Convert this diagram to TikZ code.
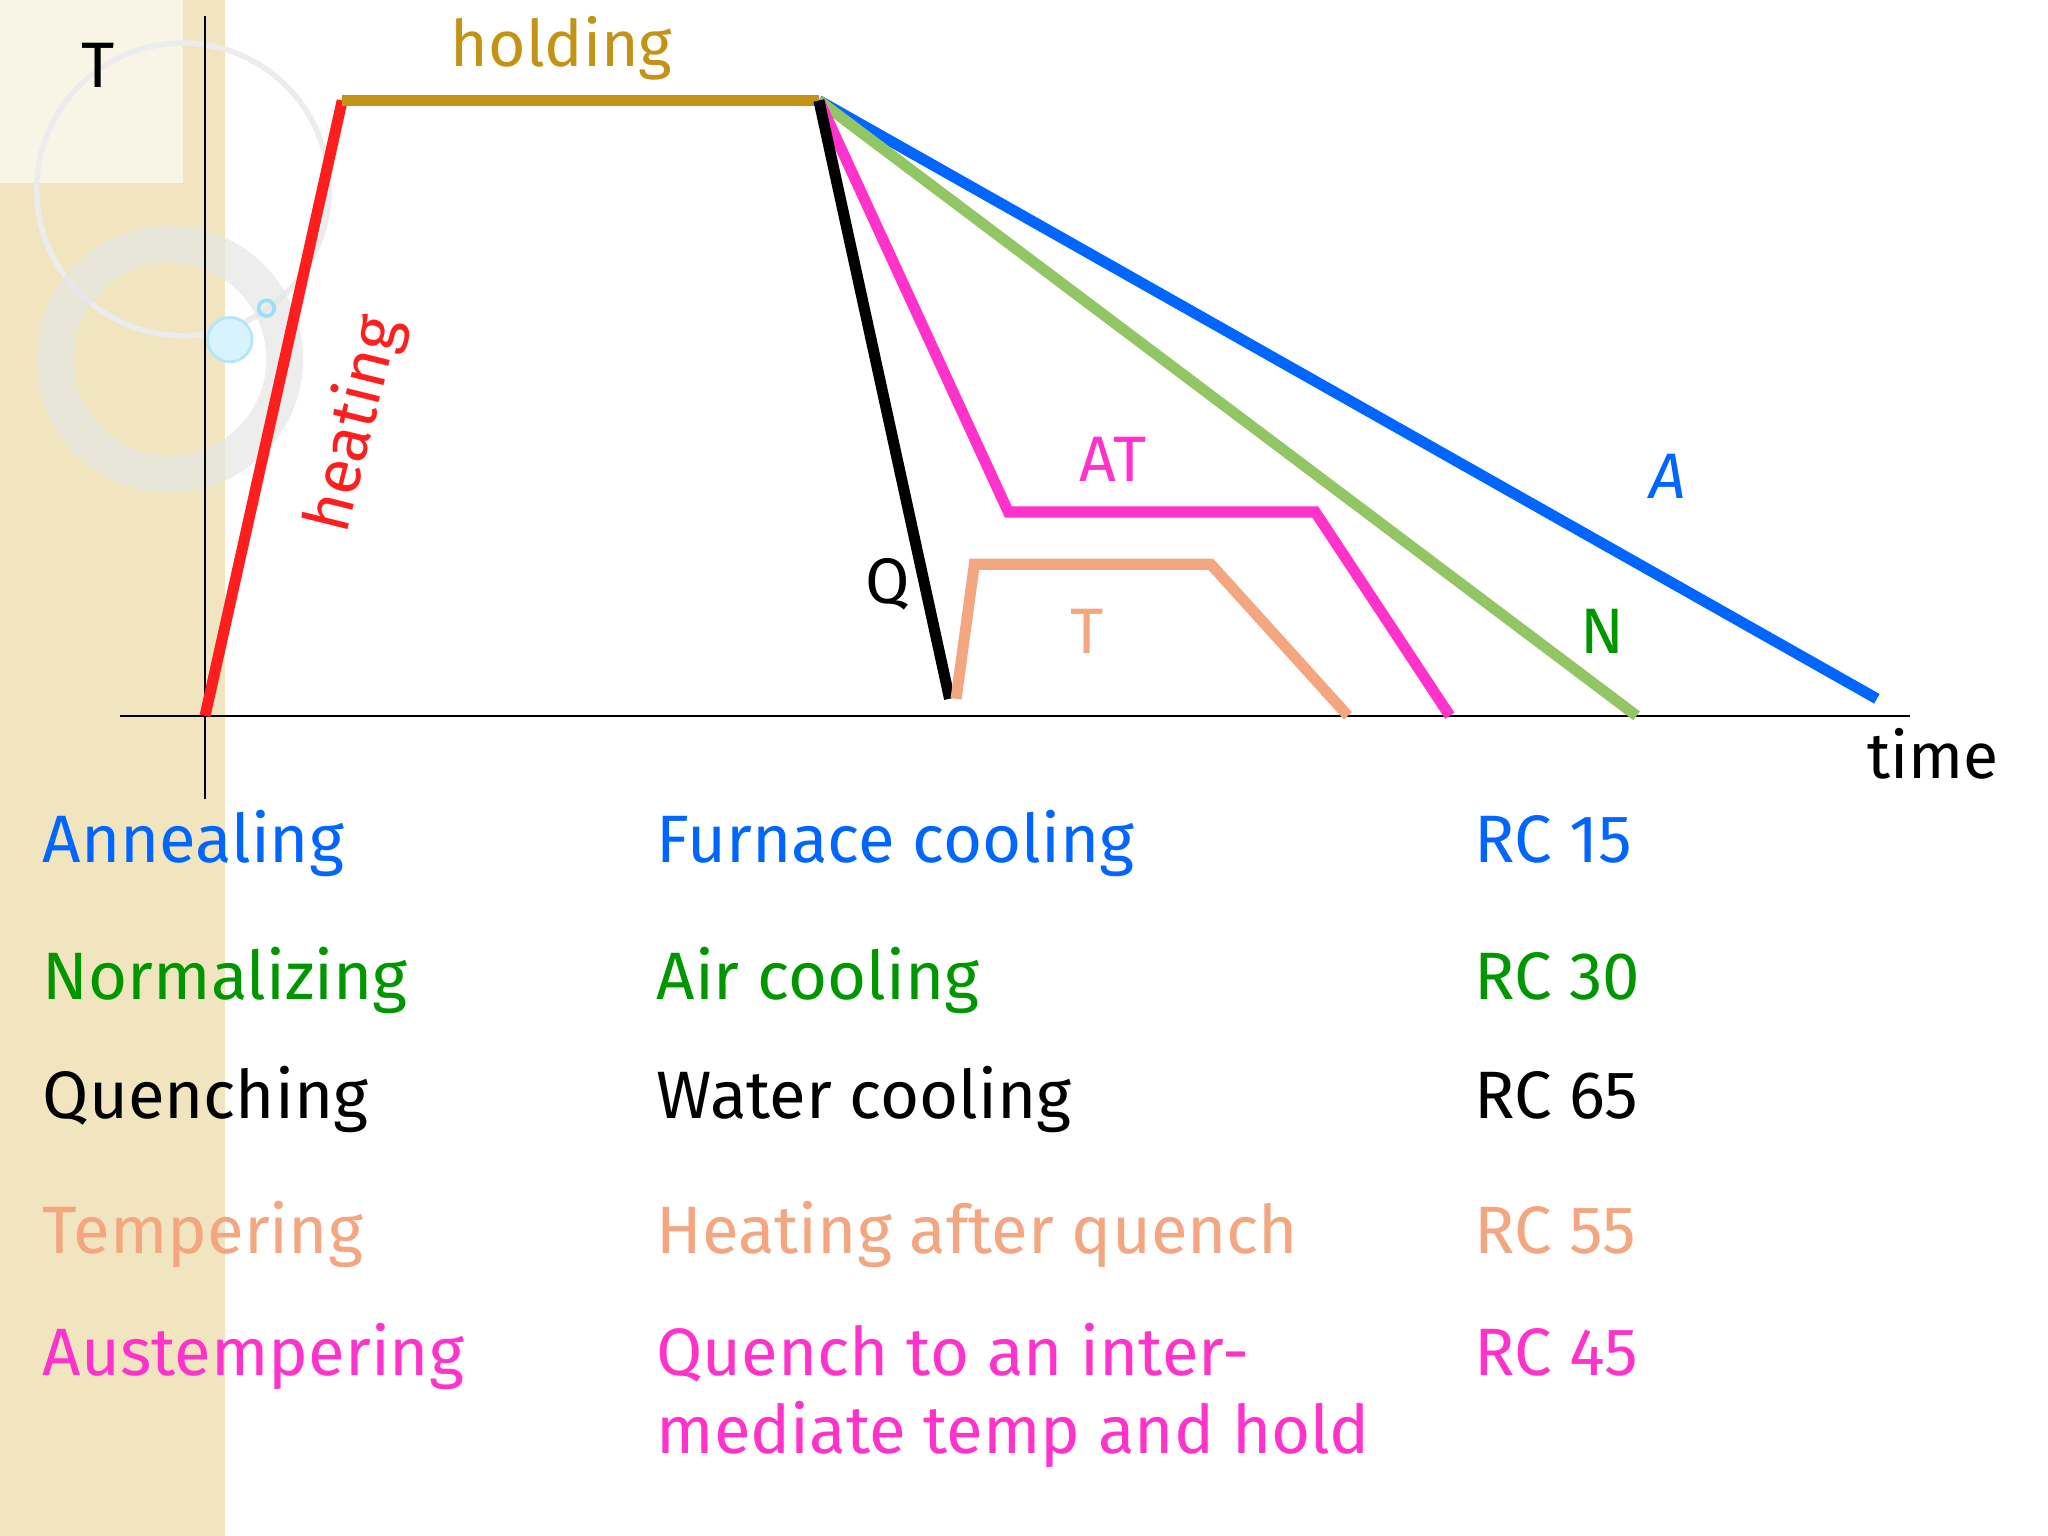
\documentclass[tikz,border=0pt]{standalone}
\usepackage{fontspec}
\setmainfont{Fira Sans}
\definecolor{cblue}{RGB}{0,102,255}
\definecolor{cgreen}{RGB}{0,150,0}
\definecolor{lgreen}{RGB}{146,198,100}
\definecolor{cmag}{RGB}{255,51,204}
\definecolor{csal}{RGB}{244,166,128}
\definecolor{cgold}{RGB}{196,146,20}
\definecolor{cred}{RGB}{255,30,30}
\definecolor{beige}{RGB}{241,229,192}
\begin{document}
\begin{tikzpicture}[x=0.01cm,y=-0.01cm,
  curve/.style={line width=2.4pt},
  lbl/.style={font=\fontsize{14}{16}\selectfont},
  tbl/.style={font=\fontsize{14.6}{17}\selectfont,anchor=base west,align=left,inner sep=0pt}]
\useasboundingbox (0,0) rectangle (1568,1176);
\fill[beige] (0,0) rectangle (172,1176);
\fill[white!60!beige] (0,0) rectangle (140,140);
\draw[white!85!gray,line width=1.2pt] (140,145) circle (112);
\draw[white!80!gray,line width=8pt,opacity=.7] (130,275) circle (88);
\fill[cyan!15] (176,260) circle (17);
\draw[cyan!30,line width=.6pt] (176,260) circle (17);
\draw[cyan!40,line width=.8pt] (204,236) circle (6);
% axes
\coordinate (yt) at (157,12); \coordinate (yb) at (157,612);
\coordinate (xl) at (92,548); \coordinate (xr) at (1462,548);
\draw[thin] (yt) -- (yb); \draw[thin] (xl) -- (xr);
% points
\coordinate (o) at (157,548); \coordinate (h1) at (262,77); \coordinate (h2) at (627,77);
\draw[curve,cred] (o) -- (h1);
\draw[curve,cgold] (h1) -- (h2);
\draw[curve,cblue] (h2) -- (1437,535);
\draw[curve,lgreen] (h2) -- (1253,548);
\draw[curve,cmag] (h2) -- (772,392) -- (1007,392) -- (1110,548);
\draw[curve,black] (h2) -- (727,535);
\draw[curve,csal] (732,535) -- (746,432) -- (927,432) -- (1032,548);
% labels
\node[lbl,cgold] (lh) at (430,37) {holding};
\node[lbl,cred,rotate=76] (lheat) at (272,325) {heating};
\node[lbl,cmag] (lat) at (852,352) {AT};
\node[lbl,csal] (lt) at (832,483) {T};
\node[lbl] (lq) at (680,447) {Q};
\node[lbl,cgreen] (ln) at (1227,483) {N};
\node[lbl,cblue] (la) at (1277,365) {\itshape A};
\node[lbl] (lT) at (75,50) {T};
\node[lbl] (ltime) at (1480,577) {time};
% table
\node[tbl,cblue] (a1) at (32,660) {Annealing};
\node[tbl,cblue] (a2) at (502,660) {Furnace cooling};
\node[tbl,cblue] (a3) at (1128,660) {RC 15};
\node[tbl,cgreen] (b1) at (32,765) {Normalizing};
\node[tbl,cgreen] (b2) at (502,765) {Air cooling};
\node[tbl,cgreen] (b3) at (1128,765) {RC 30};
\node[tbl] (c1) at (32,856) {Quenching};
\node[tbl] (c2) at (502,856) {Water cooling};
\node[tbl] (c3) at (1128,856) {RC 65};
\node[tbl,csal] (d1) at (32,960) {Tempering};
\node[tbl,csal] (d2) at (502,960) {Heating after quench};
\node[tbl,csal] (d3) at (1128,960) {RC 55};
\node[tbl,cmag] (e1) at (32,1053) {Austempering};
\node[tbl,cmag] (e2) at (502,1053) {Quench to an inter-};
\node[tbl,cmag] (e2b) at (502,1113) {mediate temp and hold};
\node[tbl,cmag] (e3) at (1128,1053) {RC 45};
\end{tikzpicture}
\end{document}
